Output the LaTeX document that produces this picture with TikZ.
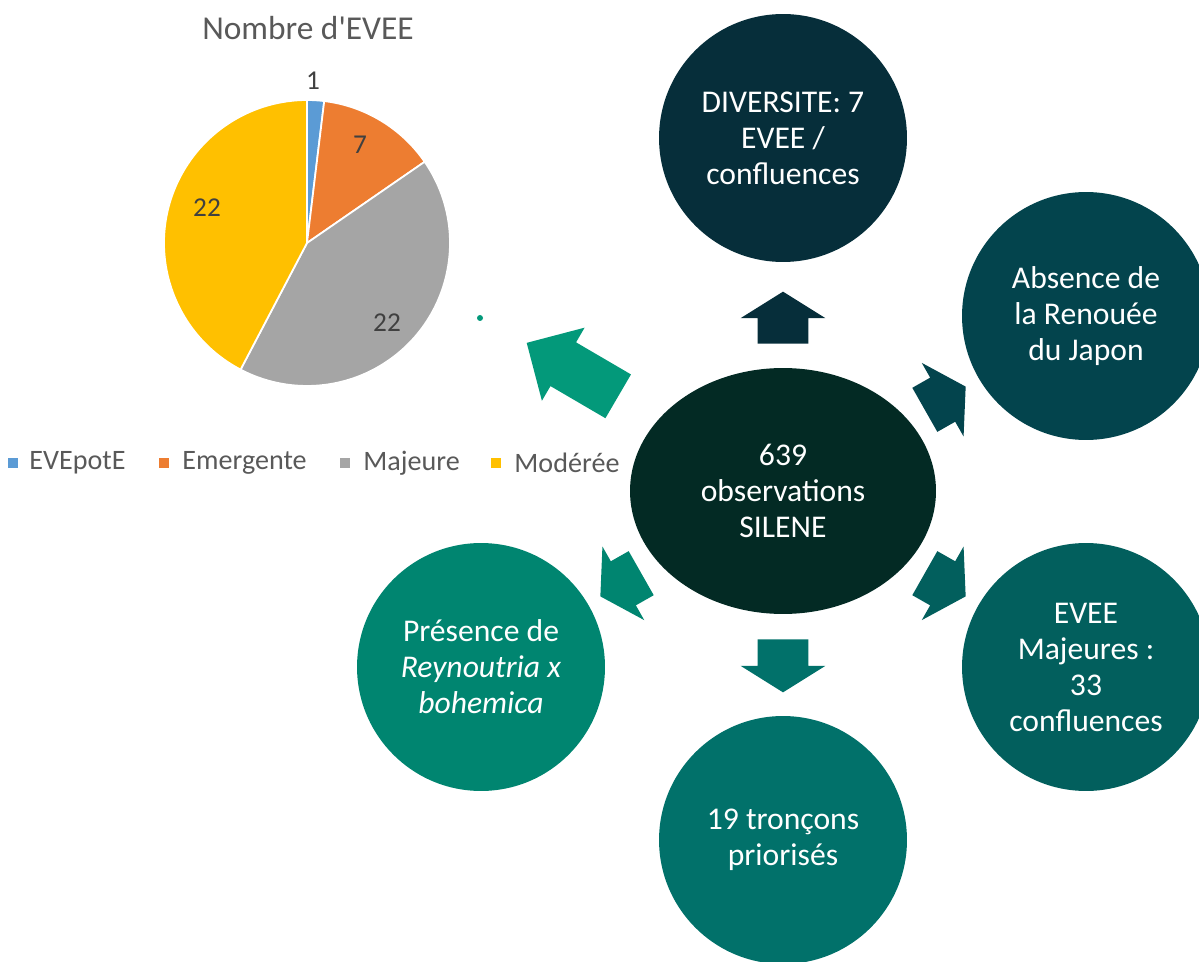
\documentclass[tikz,border=0pt]{standalone}
\usepackage{fontspec}
\setmainfont{Carlito}[Ligatures=TeXOff]
\usepackage{xcolor}
\usepackage{tikz}
\usetikzlibrary{shapes,arrows,positioning}
\definecolor{obsDark}{HTML}{032A24}
\definecolor{divBlue}{HTML}{062E3A}
\definecolor{absTeal}{HTML}{03444D}
\definecolor{majTeal}{HTML}{025F5D}
\definecolor{tronTeal}{HTML}{01716A}
\definecolor{presGreen}{HTML}{008570}
\definecolor{pieGreen}{HTML}{03997A}
\definecolor{evpotBlue}{HTML}{5B9BD5}
\definecolor{emergOrange}{HTML}{ED7D31}
\definecolor{majGray}{HTML}{A5A5A5}
\definecolor{modYellow}{HTML}{FFC000}
\definecolor{labelGray}{HTML}{404040}
\definecolor{titleGray}{HTML}{595959}
\tikzset{bubble/.style={circle, minimum size=4.96cm, inner sep=0, text=white, align=center,
    font=\fontsize{18}{20.5}\selectfont}}
\tikzset{center-bubble/.style={bubble, ellipse, minimum width=6.12cm, minimum height=4.92cm}}
\tikzset{block-arrow/.style={
        single arrow,
        anchor=tail,
        inner xsep=0,
        inner ysep=0.5cm,
        single arrow head extend=0.34cm,
        single arrow tip angle=116
    }
}
\tikzset{chart-title/.style={text=titleGray, font=\fontsize{19}{22}\selectfont}}
\tikzset{pie-label/.style={text=labelGray, inner sep=0, font=\fontsize{15.5}{18}\selectfont}}
\tikzset{legend-key/.style={inner sep=0, minimum size=0.19cm}}
\tikzset{legend-text/.style={text=titleGray, inner sep=0, font=\fontsize{16}{18}\selectfont}}

\begin{document}
\begin{tikzpicture}[x=0.02cm, y=-0.02cm]
    \useasboundingbox (0,0) rectangle (1199,962);

    % pie chart
    \node[chart-title] (title) at (308,28) {Nombre d'EVEE};
    \begin{scope}[shift={(307,243)}, x=1cm, y=1cm]
        \foreach \from/\to/\col in {90/83.08/evpotBlue, 83.08/34.62/emergOrange,
                                    34.62/-117.69/majGray, -117.69/-270/modYellow}
            \filldraw[fill=\col, draw=white, line width=1pt]
                (0,0) -- (\from:2.86) arc[start angle=\from, end angle=\to, radius=2.86] -- cycle;
    \end{scope}
    \node[pie-label] (lab1) at (313,81) {1};
    \node[pie-label] (lab7) at (360,145) {7};
    \node[pie-label] (labmaj) at (387,323) {22};
    \node[pie-label] (labmod) at (207,208) {22};

    \node[legend-key, fill=evpotBlue] (key1) at (13,463) {};
    \node[legend-text, right=0.22cm of key1] (leg1) {EVEpotE};
    \node[legend-key, fill=emergOrange] (key2) at (164,463) {};
    \node[legend-text, right=0.26cm of key2] (leg2) {Emergente};
    \node[legend-key, fill=majGray] (key3) at (345,463) {};
    \node[legend-text, right=0.26cm of key3] (leg3) {Majeure};
    \node[legend-key, fill=modYellow] (key4) at (496,463) {};
    \node[legend-text, right=0.26cm of key4] (leg4) {Modérée};

    \node[circle, fill=pieGreen, minimum size=0.12cm, inner sep=0] (dot) at (480,318) {};

    % bubbles
    \node[center-bubble, fill=obsDark] (obs) at (783,491) {639\\observations\\SILENE};
    \node[bubble, fill=divBlue] (diversite) at (783,138) {DIVERSITE: 7\\EVEE /\\confluences};
    \node[bubble, fill=absTeal] (absence) at (1086,316) {Absence de\\la Renouée\\du Japon};
    \node[bubble, fill=majTeal] (majeures) at (1086,667) {EVEE\\Majeures :\\33\\confluences};
    \node[bubble, fill=tronTeal] (troncons) at (783,840) {19 tronçons\\priorisés};
    \node[bubble, fill=presGreen] (presence) at (481,667) {Présence de\\\textit{Reynoutria x}\\\textit{bohemica}};

    % arrows out of the centre
    \node[block-arrow, fill=divBlue, minimum height=1.04cm, rotate=90] (toDiv) at (783,344) {};
    \node[block-arrow, fill=absTeal, minimum height=0.94cm, rotate=29.6] (toAbs) at (924.5,410) {};
    \node[block-arrow, fill=majTeal, minimum height=0.94cm, rotate=-29.6] (toMaj) at (924.5,573) {};
    \node[block-arrow, fill=tronTeal, minimum height=1.06cm, rotate=-90] (toTron) at (783,639) {};
    \node[block-arrow, fill=presGreen, minimum height=0.94cm, rotate=209.6] (toPres) at (641.5,573) {};
    \node[block-arrow, fill=pieGreen, minimum height=2.12cm, single arrow tip angle=90,
          rotate=149.7] (toPie) at (618.5,396.5) {};
\end{tikzpicture}
\end{document}
